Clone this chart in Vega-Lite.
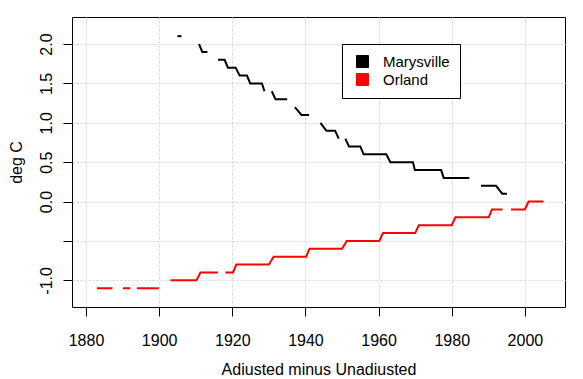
{
  "$schema": "https://vega.github.io/schema/vega-lite/v6.json",
  "width": 493,
  "height": 290,
  "autosize": "none",
  "padding": {"left": 72, "top": 17, "right": 18, "bottom": 72},
  "background": "white",
  "config": {
    "view": {"stroke": "black", "strokeWidth": 1},
    "font": "Liberation Sans"
  },
  "data": {
    "values": [
      {"site": "Marysville", "seg": "M1", "year": 1905.0, "value": 2.1},
      {"site": "Marysville", "seg": "M1", "year": 1906.1, "value": 2.1},
      {"site": "Marysville", "seg": "M2", "year": 1910.9, "value": 2.0},
      {"site": "Marysville", "seg": "M2", "year": 1911.8, "value": 1.9},
      {"site": "Marysville", "seg": "M2", "year": 1913.2, "value": 1.9},
      {"site": "Marysville", "seg": "M3", "year": 1916.1, "value": 1.8},
      {"site": "Marysville", "seg": "M3", "year": 1917.9, "value": 1.8},
      {"site": "Marysville", "seg": "M3", "year": 1918.8, "value": 1.7},
      {"site": "Marysville", "seg": "M3", "year": 1920.9, "value": 1.7},
      {"site": "Marysville", "seg": "M3", "year": 1922.0, "value": 1.6},
      {"site": "Marysville", "seg": "M3", "year": 1924.0, "value": 1.6},
      {"site": "Marysville", "seg": "M3", "year": 1924.9, "value": 1.5},
      {"site": "Marysville", "seg": "M3", "year": 1928.1, "value": 1.5},
      {"site": "Marysville", "seg": "M3", "year": 1928.8, "value": 1.4},
      {"site": "Marysville", "seg": "M4", "year": 1930.8, "value": 1.4},
      {"site": "Marysville", "seg": "M4", "year": 1931.8, "value": 1.3},
      {"site": "Marysville", "seg": "M4", "year": 1935.0, "value": 1.3},
      {"site": "Marysville", "seg": "M5", "year": 1937.1, "value": 1.2},
      {"site": "Marysville", "seg": "M5", "year": 1938.9, "value": 1.1},
      {"site": "Marysville", "seg": "M5", "year": 1941.0, "value": 1.1},
      {"site": "Marysville", "seg": "M6", "year": 1944.1, "value": 1.0},
      {"site": "Marysville", "seg": "M6", "year": 1945.7, "value": 0.9},
      {"site": "Marysville", "seg": "M6", "year": 1948.1, "value": 0.9},
      {"site": "Marysville", "seg": "M6", "year": 1949.1, "value": 0.8},
      {"site": "Marysville", "seg": "M7", "year": 1950.9, "value": 0.8},
      {"site": "Marysville", "seg": "M7", "year": 1951.9, "value": 0.7},
      {"site": "Marysville", "seg": "M7", "year": 1955.0, "value": 0.7},
      {"site": "Marysville", "seg": "M7", "year": 1955.9, "value": 0.6},
      {"site": "Marysville", "seg": "M7", "year": 1962.1, "value": 0.6},
      {"site": "Marysville", "seg": "M7", "year": 1963.2, "value": 0.5},
      {"site": "Marysville", "seg": "M7", "year": 1969.4, "value": 0.5},
      {"site": "Marysville", "seg": "M7", "year": 1969.9, "value": 0.4},
      {"site": "Marysville", "seg": "M7", "year": 1977.1, "value": 0.4},
      {"site": "Marysville", "seg": "M7", "year": 1977.8, "value": 0.3},
      {"site": "Marysville", "seg": "M7", "year": 1984.8, "value": 0.3},
      {"site": "Marysville", "seg": "M8", "year": 1988.0, "value": 0.2},
      {"site": "Marysville", "seg": "M8", "year": 1992.1, "value": 0.2},
      {"site": "Marysville", "seg": "M8", "year": 1993.8, "value": 0.1},
      {"site": "Marysville", "seg": "M8", "year": 1995.1, "value": 0.1},
      {"site": "Orland", "seg": "O1", "year": 1883.0, "value": -1.1},
      {"site": "Orland", "seg": "O1", "year": 1887.2, "value": -1.1},
      {"site": "Orland", "seg": "O2", "year": 1890.1, "value": -1.1},
      {"site": "Orland", "seg": "O2", "year": 1892.1, "value": -1.1},
      {"site": "Orland", "seg": "O3", "year": 1893.9, "value": -1.1},
      {"site": "Orland", "seg": "O3", "year": 1899.9, "value": -1.1},
      {"site": "Orland", "seg": "O4", "year": 1903.1, "value": -1.0},
      {"site": "Orland", "seg": "O4", "year": 1910.2, "value": -1.0},
      {"site": "Orland", "seg": "O4", "year": 1911.3, "value": -0.9},
      {"site": "Orland", "seg": "O4", "year": 1916.1, "value": -0.9},
      {"site": "Orland", "seg": "O5", "year": 1918.1, "value": -0.9},
      {"site": "Orland", "seg": "O5", "year": 1920.2, "value": -0.9},
      {"site": "Orland", "seg": "O5", "year": 1921.1, "value": -0.8},
      {"site": "Orland", "seg": "O5", "year": 1930.0, "value": -0.8},
      {"site": "Orland", "seg": "O5", "year": 1931.3, "value": -0.7},
      {"site": "Orland", "seg": "O5", "year": 1940.2, "value": -0.7},
      {"site": "Orland", "seg": "O5", "year": 1941.1, "value": -0.6},
      {"site": "Orland", "seg": "O5", "year": 1950.0, "value": -0.6},
      {"site": "Orland", "seg": "O5", "year": 1951.3, "value": -0.5},
      {"site": "Orland", "seg": "O5", "year": 1960.2, "value": -0.5},
      {"site": "Orland", "seg": "O5", "year": 1961.2, "value": -0.4},
      {"site": "Orland", "seg": "O5", "year": 1970.0, "value": -0.4},
      {"site": "Orland", "seg": "O5", "year": 1971.0, "value": -0.3},
      {"site": "Orland", "seg": "O5", "year": 1980.0, "value": -0.3},
      {"site": "Orland", "seg": "O5", "year": 1981.0, "value": -0.2},
      {"site": "Orland", "seg": "O5", "year": 1990.1, "value": -0.2},
      {"site": "Orland", "seg": "O5", "year": 1991.0, "value": -0.1},
      {"site": "Orland", "seg": "O5", "year": 1993.9, "value": -0.1},
      {"site": "Orland", "seg": "O6", "year": 1996.2, "value": -0.1},
      {"site": "Orland", "seg": "O6", "year": 2000.0, "value": -0.1},
      {"site": "Orland", "seg": "O6", "year": 2001.0, "value": 0.0},
      {"site": "Orland", "seg": "O6", "year": 2005.1, "value": 0.0}
    ]
  },
  "mark": {"type": "line", "strokeWidth": 2},
  "encoding": {
    "x": {
      "field": "year",
      "type": "quantitative",
      "scale": {"domain": [1876.17, 2010.96], "nice": false, "zero": false},
      "axis": {
        "values": [1880, 1900, 1920, 1940, 1960, 1980, 2000],
        "format": "d",
        "title": "Adiusted minus Unadiusted",
        "grid": true,
        "gridColor": "#d3d3d3",
        "gridDash": [2, 2],
        "domain": false,
        "tickColor": "black",
        "tickSize": 9,
        "labelFontSize": 16,
        "labelColor": "black",
        "labelBaseline": "alphabetic",
        "labelPadding": 29,
        "labelFlush": false,
        "labelOverlap": false,
        "titleFontSize": 16,
        "titleFontWeight": "normal",
        "titleColor": "black",
        "titleBaseline": "alphabetic",
        "titleAnchor": "middle",
        "titleY": 67
      }
    },
    "y": {
      "field": "value",
      "type": "quantitative",
      "scale": {"domain": [-1.338, 2.343], "nice": false, "zero": false},
      "axis": {
        "values": [-1, -0.5, 0, 0.5, 1, 1.5, 2],
        "labelExpr": "datum.value == -0.5 ? '' : (datum.value == -1 ? '-1.0' : format(datum.value, '.1f'))",
        "title": "deg C",
        "grid": true,
        "gridColor": "#d3d3d3",
        "gridDash": [2, 2],
        "domain": false,
        "tickColor": "black",
        "tickSize": 9,
        "labelFontSize": 16,
        "labelColor": "black",
        "labelAngle": -90,
        "labelAlign": "center",
        "labelBaseline": "alphabetic",
        "labelPadding": 12,
        "labelFlush": false,
        "labelOverlap": false,
        "titleFontSize": 16,
        "titleFontWeight": "normal",
        "titleColor": "black",
        "titleAngle": -90,
        "titleAlign": "center",
        "titleBaseline": "alphabetic",
        "titleX": -51,
        "titleY": 145
      }
    },
    "color": {
      "field": "site",
      "type": "nominal",
      "scale": {"domain": ["Marysville", "Orland"], "range": ["#000000", "#ff0000"]},
      "legend": {
        "title": null,
        "orient": "none",
        "legendX": 270,
        "legendY": 27,
        "padding": 10,
        "fillColor": "white",
        "strokeColor": "black",
        "cornerRadius": 0,
        "symbolType": "square",
        "symbolSize": 144,
        "symbolStrokeColor": "black",
        "symbolStrokeWidth": 1,
        "symbolOffset": 3,
        "labelOffset": 13,
        "labelFontSize": 15,
        "labelColor": "black",
        "rowPadding": 1,
        "encode": {
          "symbols": {
            "update": {
              "fill": {"scale": "color", "field": "value"},
              "stroke": {"value": "black"},
              "opacity": {"value": 1},
              "strokeWidth": {"value": 1}
            }
          }
        }
      }
    },
    "detail": {"field": "seg", "type": "nominal"}
  }
}
